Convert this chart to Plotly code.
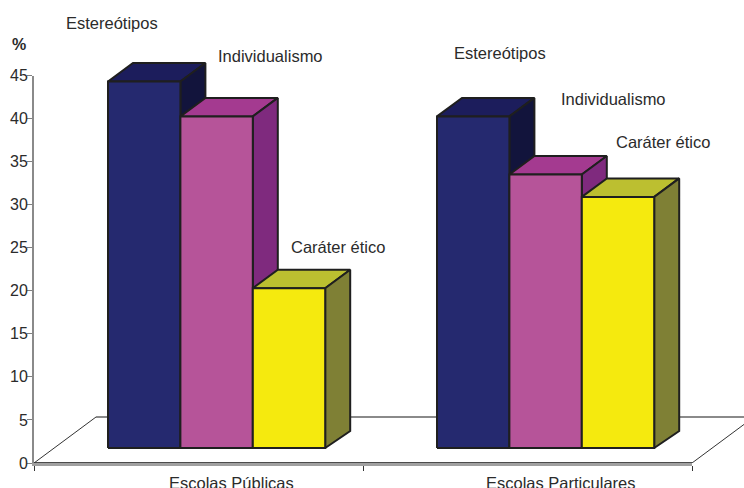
import plotly.graph_objects as go

categories = ["Escolas Públicas", "Escolas Particulares"]
series = ["Estereótipos", "Individualismo", "Caráter ético"]
publicas = [44.3, 40.25, 20.3]
particulares = [40.25, 33.5, 30.9]
y_ticks = [0, 5, 10, 15, 20, 25, 30, 35, 40, 45]
front_colors = ["#25296f", "#b65499", "#f5ea0e"]
top_colors = ["#1c1d5c", "#a43a90", "#bcbf30"]
side_colors = ["#12143c", "#7f2a7e", "#7f8035"]

W, H = 744, 488
ML, MB = 34, 25
PW, PH = W - ML, H - MB
CAT_PX = 329.0
UNIT_PX = 387.5 / 45

# oblique projection, in axis units
BAR_START = 74 / CAT_PX
BAR_W = 72.4 / CAT_PX
BAR_DX = 25 / CAT_PX
TOP_DY = 18.5 / UNIT_PX
BASE_DY = 17 / UNIT_PX
BASE = 15 / UNIT_PX
FLOOR_DX = 62 / CAT_PX
FLOOR_DY = 46 / UNIT_PX

OUTLINE = "#1f1f1f"
fig = go.Figure()


def poly(xs, ys, color):
    fig.add_trace(go.Scatter(
        x=xs + xs[:1], y=ys + ys[:1], xaxis="x2", yaxis="y2", mode="lines",
        fill="toself", fillcolor=color, line=dict(color=OUTLINE, width=2),
        hoverinfo="skip", showlegend=False))


def seg(xs, ys, color, width):
    fig.add_trace(go.Scatter(
        x=xs, y=ys, xaxis="x2", yaxis="y2", mode="lines",
        line=dict(color=color, width=width), hoverinfo="skip", showlegend=False))


# axis carrier: black front floor edge
fig.add_trace(go.Scatter(x=[0, 2], y=[0, 0], mode="lines", cliponaxis=False,
                         line=dict(color="#111111", width=1.3),
                         hoverinfo="skip", showlegend=False))

# floor
seg([0, FLOOR_DX], [0, FLOOR_DY], "#333333", 1)
seg([2, 2 + FLOOR_DX], [0, FLOOR_DY], "#333333", 1)
seg([FLOOR_DX, 2 + FLOOR_DX], [FLOOR_DY, FLOOR_DY], "#8a8a8a", 2)

# bars
for c, vals in enumerate([publicas, particulares]):
    for i, v in enumerate(vals):
        x0 = c + BAR_START + i * BAR_W
        x1 = x0 + BAR_W
        poly([x0, x1, x1 + BAR_DX, x0 + BAR_DX], [v, v, v + TOP_DY, v + TOP_DY], top_colors[i])
        poly([x1, x1 + BAR_DX, x1 + BAR_DX, x1], [BASE, BASE + BASE_DY, v + TOP_DY, v], side_colors[i])
        poly([x0, x1, x1, x0], [BASE, BASE, v, v], front_colors[i])

FONT = dict(family="Liberation Sans, Arial, sans-serif", size=16.5, color="#2b2b2b")


def label(text, px, py, **kw):
    f = dict(FONT)
    f.update(kw)
    fig.add_annotation(text=text, x=(px - ML) / PW, y=(PH - py) / PH, xref="paper", yref="paper",
                       xanchor="center", yanchor="middle", showarrow=False, font=f)


label_px = [(111.5, 23), (270, 56), (338, 247), (500, 53), (613, 99), (663, 142)]
for name, (px, py) in zip(series + series, label_px):
    label(name, px, py)
label(categories[0], 231, 483)
label(categories[1], 560, 483)
label("<b>%</b>", 19, 44, size=16)

fig.update_layout(
    width=W, height=H, autosize=False, paper_bgcolor="white", plot_bgcolor="rgba(0,0,0,0)",
    margin=dict(l=ML, r=0, t=0, b=MB, pad=0, autoexpand=False), showlegend=False,
    xaxis=dict(domain=[0, 2 * CAT_PX / PW], range=[0, 2], anchor="y",
               tickvals=[0, 1, 2], ticktext=["", "", ""], ticks="outside", ticklen=5,
               tickcolor="#333333", tickwidth=1, showgrid=False, zeroline=False,
               showline=True, linecolor="#a0a0a0", linewidth=3),
    yaxis=dict(domain=[0, 387.5 / PH], range=[0, 45], anchor="x",
               tickvals=y_ticks, ticks="outside", ticklen=5, tickcolor="#808080",
               tickwidth=1, showgrid=False, zeroline=False, showline=True,
               linecolor="#8a8a8a", linewidth=2, ticklabelstandoff=-4,
               tickfont=dict(FONT, size=16)),
    xaxis2=dict(domain=[0, 1], range=[0, PW / CAT_PX], anchor="y2", visible=False),
    yaxis2=dict(domain=[0, 1], range=[0, PH / UNIT_PX], anchor="x2", visible=False),
)

fig.write_html("out.html", config=dict(displayModeBar=False),
               post_script="document.body.style.margin='0';document.documentElement.style.overflow='hidden';")
